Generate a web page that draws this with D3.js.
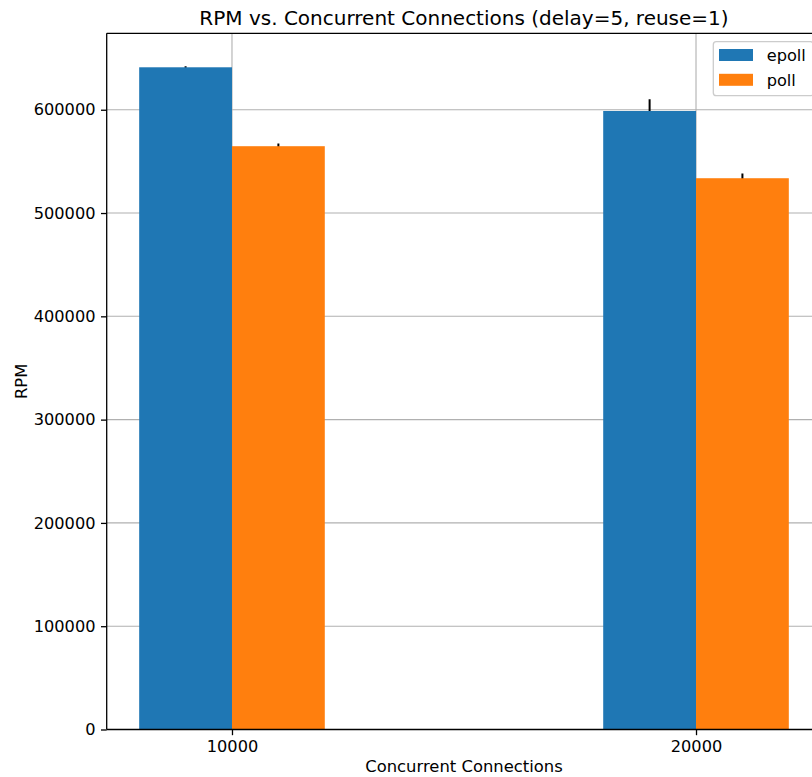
<!DOCTYPE html>
<html>
<head>
<meta charset="utf-8">
<script src="https://cdn.jsdelivr.net/npm/d3@7"></script>
<style>
  html, body { margin: 0; padding: 0; background: #fff; }
  svg { display: block; font-family: "DejaVu Sans", sans-serif; }
</style>
</head>
<body>
<svg id="chart" width="812" height="777"></svg>
<script>
// ---- data ----
const connections = [10000, 20000];
const seriesNames = ["epoll", "poll"];
const epollRPM = [641100, 598800];
const pollRPM = [564700, 533700];
const epollErr = [1000, 11300];
const pollErr = [2600, 4500];
const yTicks = [0, 100000, 200000, 300000, 400000, 500000, 600000];
const xTicks = [10000, 20000];
const colors = ["#1f77b4", "#ff7f0e"];
const titleText = "RPM vs. Concurrent Connections (delay=5, reuse=1)";
const xLabel = "Concurrent Connections";
const yLabel = "RPM";

(function () {
// ---- layout ----
const svg = d3.select("#chart");
const pL = 106.7, pR = 821.3, pT = 33.3, pB = 729.5;
const barWidth = 2000;
const offsets = [-1000, 1000];

const x = d3.scaleLinear().domain([7300, 22700]).range([pL, pR]);
const y = d3.scaleLinear().domain([0, 674000]).range([pB, pT]);

const values = [epollRPM, pollRPM];
const errs = [epollErr, pollErr];
const bars = [];
seriesNames.forEach((s, si) => {
  connections.forEach((c, ci) => {
    bars.push({ s: si, c, v: values[si][ci], e: errs[si][ci] });
  });
});

svg.append("defs").append("clipPath").attr("id", "clip")
  .append("rect").attr("x", pL).attr("y", pT).attr("width", pR - pL).attr("height", pB - pT);

const plot = svg.append("g").attr("clip-path", "url(#clip)");

// grid
plot.selectAll("line.hgrid").data(yTicks).enter().append("line")
  .attr("x1", pL).attr("x2", pR)
  .attr("y1", d => y(d)).attr("y2", d => y(d))
  .attr("stroke", "#b0b0b0").attr("stroke-width", 1.1);
plot.selectAll("line.vgrid").data(xTicks).enter().append("line")
  .attr("y1", pT).attr("y2", pB)
  .attr("x1", d => x(d)).attr("x2", d => x(d))
  .attr("stroke", "#b0b0b0").attr("stroke-width", 1.1);

// error bars (behind bars)
plot.selectAll("line.err").data(bars).enter().append("line")
  .attr("x1", d => x(d.c + offsets[d.s])).attr("x2", d => x(d.c + offsets[d.s]))
  .attr("y1", d => y(d.v - d.e)).attr("y2", d => y(d.v + d.e))
  .attr("stroke", "#000").attr("stroke-width", 2);

// bars
plot.selectAll("rect.bar").data(bars).enter().append("rect")
  .attr("x", d => x(d.c + offsets[d.s] - barWidth / 2))
  .attr("width", d => x(d.c + offsets[d.s] + barWidth / 2) - x(d.c + offsets[d.s] - barWidth / 2))
  .attr("y", d => y(d.v))
  .attr("height", d => y(0) - y(d.v))
  .attr("fill", d => colors[d.s]);

// spines
svg.append("line").attr("x1", pL).attr("x2", pL).attr("y1", pT).attr("y2", pB)
  .attr("stroke", "#000").attr("stroke-width", 1.3);
svg.append("line").attr("x1", pL).attr("x2", pR).attr("y1", pB).attr("y2", pB)
  .attr("stroke", "#000").attr("stroke-width", 1.3);
svg.append("line").attr("x1", pL).attr("x2", pR).attr("y1", pT).attr("y2", pT)
  .attr("stroke", "#000").attr("stroke-width", 1.3);

// axes
const yAxis = d3.axisLeft(y).tickValues(yTicks).tickFormat(d3.format("d")).tickSize(5.7).tickPadding(5.5);
const gy = svg.append("g").attr("transform", `translate(${pL},0)`).call(yAxis);
gy.select(".domain").remove();
gy.selectAll("text").attr("font-size", "16.2px").attr("font-family", "DejaVu Sans").attr("fill", "#000");
gy.selectAll("line").attr("stroke-width", 1.3);

const xAxis = d3.axisBottom(x).tickValues(xTicks).tickFormat(d3.format("d")).tickSize(5.7).tickPadding(5.5);
const gx = svg.append("g").attr("transform", `translate(0,${pB})`).call(xAxis);
gx.select(".domain").remove();
gx.selectAll("text").attr("font-size", "16.2px").attr("font-family", "DejaVu Sans").attr("fill", "#000");
gx.selectAll("line").attr("stroke-width", 1.3);

// title & labels
svg.append("text").attr("x", (pL + pR) / 2).attr("y", 25)
  .attr("text-anchor", "middle").attr("font-size", "20px").attr("fill", "#000").text(titleText);
svg.append("text").attr("x", (pL + pR) / 2).attr("y", 772.3)
  .attr("text-anchor", "middle").attr("font-size", "16.4px").attr("fill", "#000").text(xLabel);
svg.append("text").attr("transform", `translate(26.5,${(pT + pB) / 2}) rotate(-90)`)
  .attr("text-anchor", "middle").attr("font-size", "16.4px").attr("fill", "#000").text(yLabel);

// legend
const lg = svg.append("g");
lg.append("rect").attr("x", 713.3).attr("y", 41.7).attr("width", 100).attr("height", 54)
  .attr("rx", 3).attr("fill", "#fff").attr("fill-opacity", 0.8)
  .attr("stroke", "#cccccc").attr("stroke-width", 1.3);
seriesNames.forEach((s, i) => {
  const cy = 55 + i * 24.8;
  lg.append("rect").attr("x", 719).attr("y", cy - 6).attr("width", 34).attr("height", 12).attr("fill", colors[i]);
  lg.append("text").attr("x", 766.7).attr("y", cy + 6.3).attr("font-size", "16.2px").attr("fill", "#000").text(s);
});
})();
</script>
</body>
</html>
